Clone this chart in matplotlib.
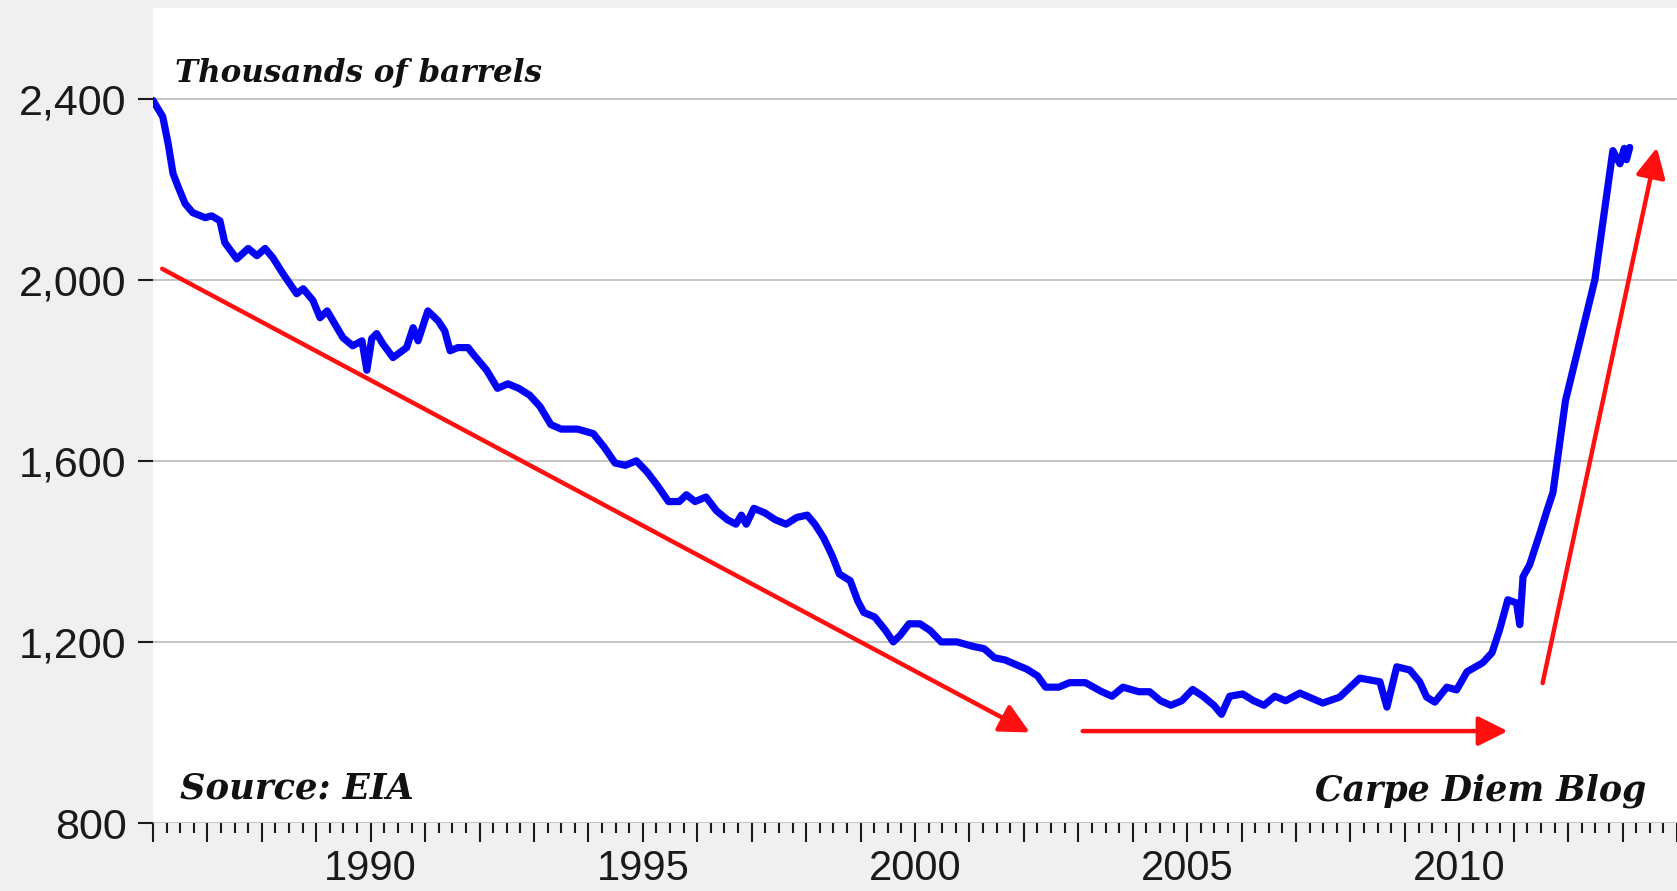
import matplotlib
matplotlib.use('Agg')
import matplotlib.pyplot as plt
from matplotlib.ticker import FixedLocator, FuncFormatter, MultipleLocator

# monthly crude production, thousands of barrels
years = [1986.00, 1986.18, 1986.28, 1986.37, 1986.47, 1986.59, 1986.73, 1986.96, 1987.08, 1987.23,
         1987.32, 1987.54, 1987.75, 1987.91, 1988.06, 1988.20, 1988.39, 1988.64, 1988.76, 1988.94,
         1989.07, 1989.20, 1989.49, 1989.67, 1989.84, 1989.93, 1990.02, 1990.11, 1990.22, 1990.41,
         1990.66, 1990.78, 1990.87, 1991.05, 1991.24, 1991.36, 1991.46, 1991.60, 1991.79, 1991.88,
         1992.13, 1992.33, 1992.52, 1992.72, 1992.92, 1993.11, 1993.31, 1993.50, 1993.80, 1994.09,
         1994.29, 1994.49, 1994.68, 1994.88, 1995.08, 1995.27, 1995.47, 1995.67, 1995.80, 1995.96,
         1996.16, 1996.35, 1996.55, 1996.71, 1996.81, 1996.90, 1997.04, 1997.24, 1997.43, 1997.63,
         1997.83, 1998.02, 1998.16, 1998.32, 1998.48, 1998.61, 1998.81, 1998.95, 1999.06, 1999.26,
         1999.46, 1999.60, 1999.73, 1999.89, 2000.09, 2000.28, 2000.48, 2000.77, 2001.07, 2001.27,
         2001.46, 2001.66, 2001.85, 2002.05, 2002.25, 2002.40, 2002.64, 2002.84, 2003.13, 2003.43,
         2003.62, 2003.82, 2004.11, 2004.31, 2004.51, 2004.70, 2004.90, 2005.10, 2005.29, 2005.49,
         2005.63, 2005.78, 2006.02, 2006.22, 2006.41, 2006.61, 2006.81, 2007.07, 2007.49, 2007.80,
         2008.17, 2008.54, 2008.67, 2008.85, 2009.09, 2009.27, 2009.40, 2009.55, 2009.77, 2009.95,
         2010.14, 2010.43, 2010.60, 2010.74, 2010.89, 2011.05, 2011.11, 2011.17, 2011.29, 2011.48,
         2011.61, 2011.72, 2011.95, 2012.49, 2012.82, 2012.95, 2013.03, 2013.07, 2013.13]
barrels = [2396, 2360, 2300, 2234, 2203, 2168, 2148, 2137, 2141, 2130,
           2082, 2046, 2069, 2053, 2069, 2049, 2013, 1969, 1980, 1954,
           1916, 1931, 1872, 1854, 1865, 1800, 1870, 1881, 1859, 1828,
           1850, 1894, 1865, 1931, 1909, 1887, 1843, 1850, 1850, 1836,
           1800, 1760, 1770, 1760, 1745, 1720, 1680, 1670, 1670, 1660,
           1630, 1595, 1590, 1600, 1575, 1545, 1510, 1510, 1525, 1510,
           1520, 1490, 1470, 1460, 1480, 1460, 1495, 1485, 1470, 1460,
           1475, 1480, 1460, 1430, 1390, 1350, 1335, 1290, 1265, 1255,
           1225, 1200, 1215, 1240, 1240, 1225, 1200, 1200, 1190, 1185,
           1165, 1160, 1150, 1140, 1125, 1100, 1100, 1110, 1110, 1090,
           1080, 1100, 1090, 1090, 1070, 1060, 1070, 1095, 1080, 1060,
           1040, 1080, 1085, 1070, 1060, 1080, 1070, 1087, 1065, 1078,
           1120, 1112, 1056, 1145, 1138, 1112, 1078, 1067, 1100, 1094,
           1134, 1154, 1176, 1227, 1293, 1286, 1238, 1344, 1370, 1440,
           1490, 1530, 1733, 2000, 2285, 2256, 2290, 2265, 2292]

# trend arrows drawn on the chart: (x0, y0, x1, y1)
arrows = [(1986.17, 2024, 2002.11, 1000),
          (2003.08, 1003, 2010.89, 1003),
          (2011.53, 1109, 2013.63, 2292)]

yticks = [800, 1200, 1600, 2000, 2400]

fig = plt.figure(figsize=(16.77, 8.91), dpi=100, facecolor='#f0f0f0')
ax = fig.add_axes([0.0912, 0.0763, 0.9095, 0.9147])
ax.set_facecolor('white')

ax.plot(years, barrels, color='#0505f5', lw=5.2, solid_joinstyle='round',
        solid_capstyle='round', zorder=3)

for x0, y0, x1, y1 in arrows:
    ax.annotate('', xy=(x1, y1), xytext=(x0, y0),
                arrowprops=dict(arrowstyle='-|>,head_length=0.6,head_width=0.3',
                                color='#ff1010', lw=3.2,
                                mutation_scale=30, shrinkA=0, shrinkB=0),
                zorder=4)

ax.set_xlim(1986, 2014.02)
ax.set_ylim(800, 2600)

ax.yaxis.set_major_locator(FixedLocator(yticks))
ax.yaxis.set_major_formatter(FuncFormatter(lambda v, p: f'{int(v):,}'))
ax.grid(axis='y', color='#c4c4c4', lw=1.4)
ax.set_axisbelow(True)

ax.xaxis.set_major_locator(MultipleLocator(1))
ax.xaxis.set_minor_locator(MultipleLocator(0.25))
ax.xaxis.set_major_formatter(FuncFormatter(lambda v, p: str(int(round(v))) if round(v) % 5 == 0 else ''))

for s in ax.spines.values():
    s.set_visible(False)

ax.tick_params(axis='y', length=11, width=1.5, color='#1a1a1a', pad=8,
               labelsize=31, labelcolor='#1a1a1a')
ax.tick_params(axis='x', which='major', length=14, width=1.5, color='#1a1a1a', pad=5,
               labelsize=30, labelcolor='#1a1a1a')
ax.tick_params(axis='x', which='minor', length=7, width=1.5, color='#1a1a1a')
for lab in ax.get_xticklabels() + ax.get_yticklabels():
    lab.set_family('Liberation Sans')

note = dict(family='DejaVu Serif', weight='bold', style='italic', color='#111111')
ax.text(1986.4, 2457, 'Thousands of barrels', ha='left', va='center', fontsize=22.3, **note)
ax.text(1986.5, 877, 'Source: EIA', ha='left', va='center', fontsize=25.5, **note)
ax.text(2013.44, 871, 'Carpe Diem Blog', ha='right', va='center', fontsize=25, **note)

fig.savefig('out.png', dpi=100, facecolor=fig.get_facecolor())
